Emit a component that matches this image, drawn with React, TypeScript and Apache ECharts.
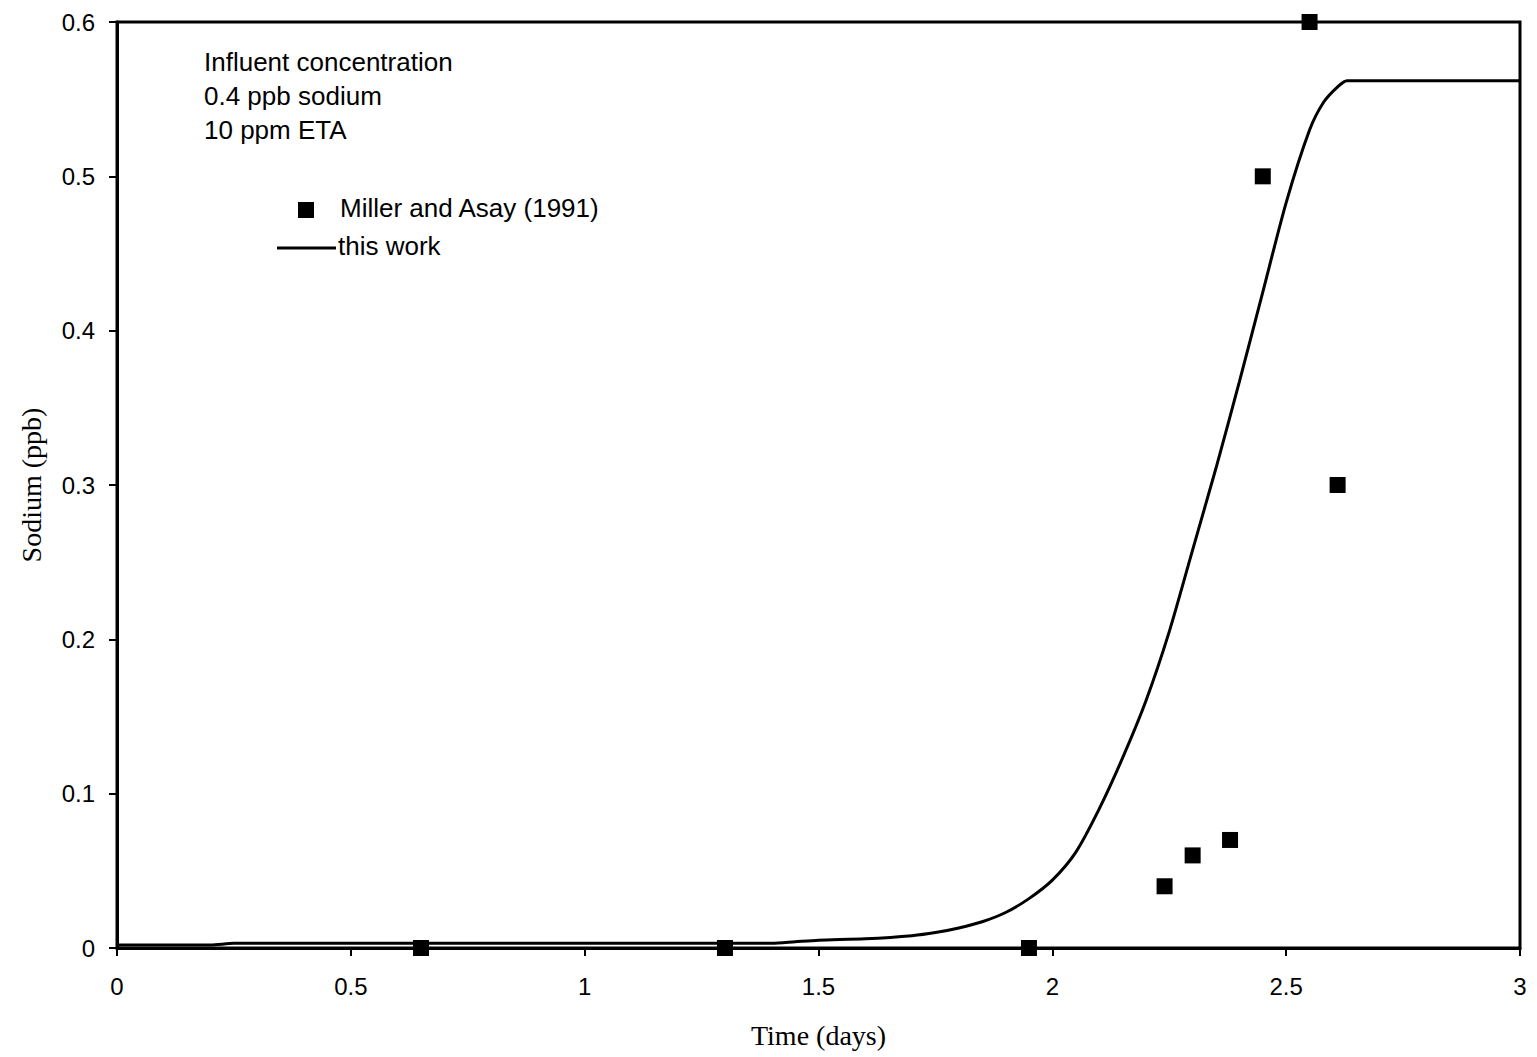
import React, { useEffect, useRef } from "react";
import * as echarts from "echarts";

const xTicks = [0, 0.5, 1, 1.5, 2, 2.5, 3];
const yTicks = [0, 0.1, 0.2, 0.3, 0.4, 0.5, 0.6];

const millerX = [0.65, 1.3, 1.95, 2.24, 2.3, 2.38, 2.45, 2.55, 2.61];
const millerY = [0, 0, 0, 0.04, 0.06, 0.07, 0.5, 0.6, 0.3];

const modelX = [0, 0.2, 0.25, 1.4, 1.45, 1.5, 1.6, 1.7, 1.75, 1.8, 1.85, 1.9, 1.95, 2.0, 2.05, 2.1, 2.15, 2.2, 2.25, 2.3, 2.35, 2.4, 2.45, 2.5, 2.55, 2.58, 2.61, 2.63, 3.0];
const modelY = [0.002, 0.002, 0.003, 0.003, 0.004, 0.005, 0.006, 0.008, 0.01, 0.013, 0.017, 0.023, 0.032, 0.044, 0.062, 0.09, 0.123, 0.16, 0.205, 0.258, 0.311, 0.367, 0.425, 0.483, 0.53, 0.548, 0.558, 0.562, 0.562];

const annotationLines = ["Influent concentration", "0.4 ppb sodium", "10 ppm ETA"];
const legendNames = ["Miller and Asay (1991)", "this work"];

export default function App() {
  const ref = useRef<HTMLDivElement>(null);
  useEffect(() => {
    if (!ref.current) return;
    const chart = echarts.init(ref.current, undefined, { renderer: "svg" });
    const sans = "Liberation Sans, Arial, sans-serif";
    const serif = "Liberation Serif, Times New Roman, serif";
    chart.setOption({
      animation: false,
      backgroundColor: "#fff",
      grid: {
        left: 117,
        right: 17,
        top: 22,
        bottom: 109,
        show: true,
        borderColor: "#000",
        borderWidth: 3,
      },
      xAxis: {
        type: "value",
        min: 0,
        max: 3,
        interval: 0.5,
        name: "Time (days)",
        nameLocation: "middle",
        nameGap: 73,
        nameTextStyle: { fontFamily: serif, fontSize: 28, color: "#000" },
        axisLine: { show: true, lineStyle: { color: "#000", width: 3 } },
        axisTick: { show: true, inside: false, length: 8, lineStyle: { color: "#000", width: 2 } },
        axisLabel: {
          color: "#000",
          fontFamily: sans,
          fontSize: 24,
          margin: 26,
          formatter: (v: number) => (xTicks.includes(v) ? String(v) : ""),
        },
        splitLine: { show: false },
      },
      yAxis: {
        type: "value",
        min: 0,
        max: 0.6,
        interval: 0.1,
        name: "Sodium (ppb)",
        nameLocation: "middle",
        nameRotate: 90,
        nameGap: 72,
        nameTextStyle: { fontFamily: serif, fontSize: 28, color: "#000" },
        axisLine: { show: true, lineStyle: { color: "#000", width: 3 } },
        axisTick: { show: true, inside: false, length: 8, lineStyle: { color: "#000", width: 2 } },
        axisLabel: {
          color: "#000",
          fontFamily: sans,
          fontSize: 24,
          margin: 22,
          formatter: (v: number) => {
            const t = yTicks.find((y) => Math.abs(y - v) < 1e-9);
            return t === undefined ? "" : t === 0 ? "0" : t.toFixed(1);
          },
        },
        splitLine: { show: false },
      },
      series: [
        {
          name: legendNames[1],
          type: "line",
          data: modelX.map((x, i) => [x, modelY[i]]),
          showSymbol: false,
          smooth: 0.25,
          lineStyle: { color: "#000", width: 3 },
          clip: false,
          z: 2,
        },
        {
          name: legendNames[0],
          type: "scatter",
          data: millerX.map((x, i) => [x, millerY[i]]),
          symbol: "rect",
          symbolSize: 16,
          itemStyle: { color: "#000", opacity: 1 },
          clip: false,
          z: 3,
        },
      ],
      graphic: [
        ...annotationLines.map((t, i) => ({
          type: "text",
          left: 204,
          top: 49 + i * 34,
          style: { text: t, fontFamily: sans, fontSize: 26, fill: "#000" },
        })),
        {
          type: "rect",
          shape: { x: 298, y: 202, width: 16, height: 16 },
          style: { fill: "#000" },
        },
        {
          type: "text",
          left: 340,
          top: 195,
          style: { text: legendNames[0], fontFamily: sans, fontSize: 26, fill: "#000" },
        },
        {
          type: "line",
          shape: { x1: 277, y1: 248, x2: 336, y2: 248 },
          style: { stroke: "#000", lineWidth: 3 },
        },
        {
          type: "text",
          left: 338,
          top: 233,
          style: { text: legendNames[1], fontFamily: sans, fontSize: 26, fill: "#000" },
        },
      ],
    });
    return () => chart.dispose();
  }, []);
  return <div ref={ref} style={{ width: 1537, height: 1057, position: "absolute", left: 0, top: 0 }} />;
}
